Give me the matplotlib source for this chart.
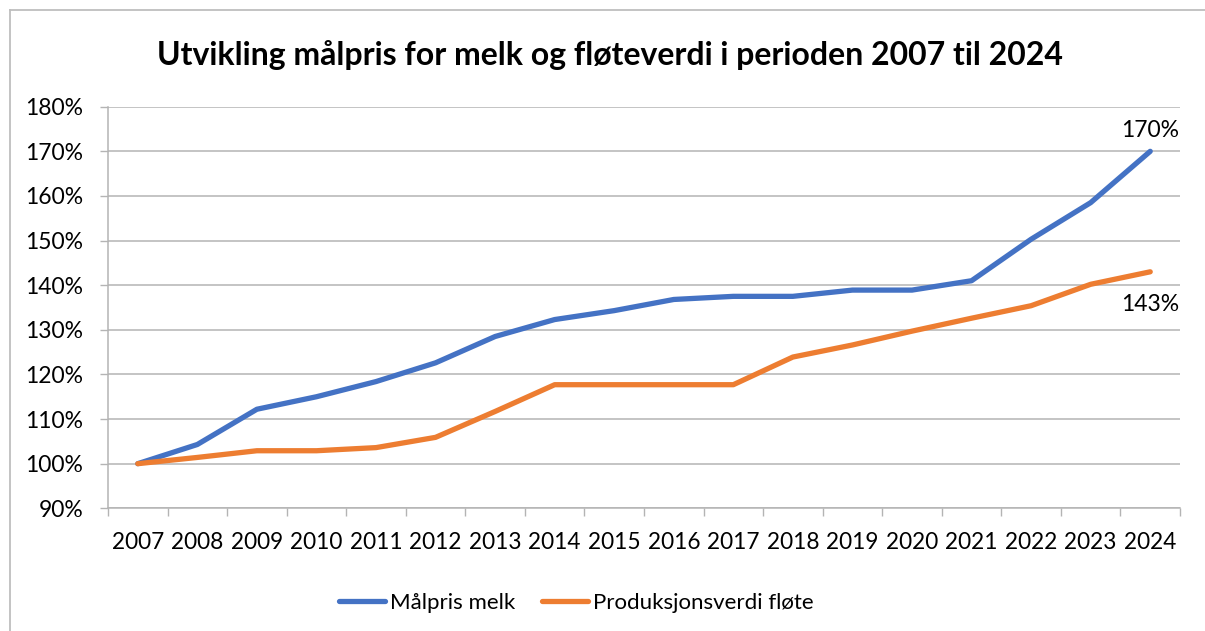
import matplotlib
matplotlib.use('Agg')
import matplotlib.pyplot as plt
from matplotlib.lines import Line2D
from matplotlib.ticker import FixedLocator, FuncFormatter

plt.rcParams['font.family'] = ['Lato', 'DejaVu Sans']

years = [str(y) for y in range(2007, 2025)]
malpris_melk = [100, 104.3, 112.2, 115.0, 118.4, 122.6, 128.5, 132.3, 134.3,
                136.8, 137.5, 137.5, 138.9, 138.9, 141.0, 150.3, 158.5, 170.0]
produksjonsverdi_flote = [100, 101.4, 102.9, 102.9, 103.6, 105.9, 111.7, 117.7, 117.7,
                          117.7, 117.7, 123.9, 126.6, 129.7, 132.6, 135.4, 140.2, 143.0]
series_names = ['Målpris melk', 'Produksjonsverdi fløte']
colors = ['#4472C4', '#ED7D31']
grid_c = '#B4B4B4'

fig = plt.figure(figsize=(12.05, 6.31), dpi=100)
ax = fig.add_axes([108/1205, 1 - 508.3/631, 1072/1205, 401.6/631])

x = list(range(len(years)))
ax.plot(x, malpris_melk, color=colors[0], lw=3.8, solid_capstyle='round',
        solid_joinstyle='round', label=series_names[0])
ax.plot(x, produksjonsverdi_flote, color=colors[1], lw=3.8, solid_capstyle='round',
        solid_joinstyle='round', label=series_names[1])

ax.set_xlim(-0.5, len(years) - 0.5)
ax.set_ylim(90, 180)
ax.set_yticks(range(90, 181, 10))
ax.yaxis.set_major_formatter(FuncFormatter(lambda v, p: f'{v:.0f}%'))
ax.set_xticks(x)
ax.set_xticklabels(years)
ax.xaxis.set_minor_locator(FixedLocator([i - 0.5 for i in range(len(years) + 1)]))

ax.tick_params(axis='x', which='major', length=0, pad=17, labelsize=16.3)
ax.tick_params(axis='x', which='minor', length=5.8, width=1, color=grid_c)
ax.tick_params(axis='y', length=5.8, width=1, color=grid_c, pad=12, labelsize=16.5)

ax.grid(axis='y', color=grid_c, lw=1.1)
ax.set_axisbelow(True)
for s in ['top', 'right']:
    ax.spines[s].set_visible(False)
for s in ['left', 'bottom']:
    ax.spines[s].set_color(grid_c)
    ax.spines[s].set_linewidth(1.1)

# data labels on the last points
ax.annotate(f'{malpris_melk[-1]:.0f}%', (x[-1], malpris_melk[-1]), xytext=(0, 21),
            textcoords='offset pixels', ha='center', va='center', fontsize=16.5)
ax.annotate(f'{produksjonsverdi_flote[-1]:.0f}%', (x[-1], produksjonsverdi_flote[-1]),
            xytext=(0, -33), textcoords='offset pixels', ha='center', va='center', fontsize=16.5)

fig.text(610/1205, 1 - 55/631, 'Utvikling målpris for melk og fløteverdi i perioden 2007 til 2024',
         ha='center', va='center', fontsize=23, fontweight='bold')

leg = fig.legend(loc='center', bbox_to_anchor=(576/1205, 1 - 603/631), ncol=2, frameon=False,
                 fontsize=16, handlelength=2.1, handletextpad=0.2, columnspacing=1.2)

# chart frame (top and left edges visible)
fig.add_artist(Line2D([10/1205, 1], [1 - 10/631, 1 - 10/631], color='#BEBEBE', lw=1.3))
fig.add_artist(Line2D([10/1205, 10/1205], [0, 1 - 10/631], color='#BEBEBE', lw=1.3))

fig.savefig('out.png', dpi=100)
